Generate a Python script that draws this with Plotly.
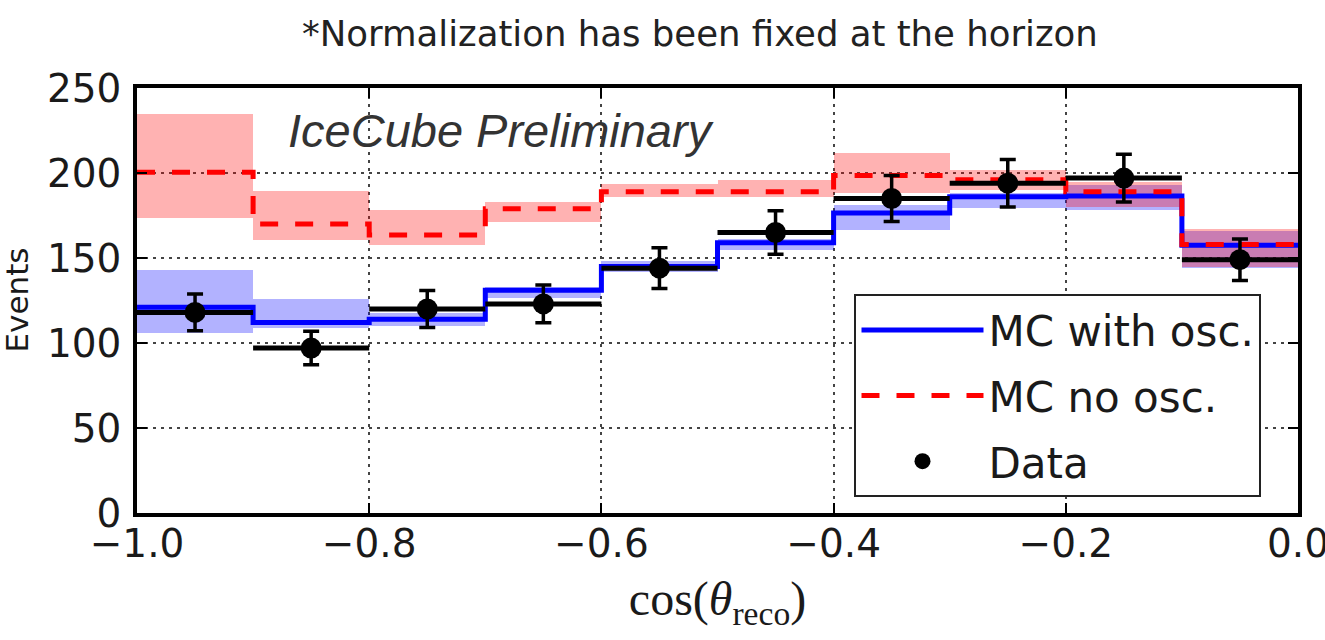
import numpy as np
import plotly.graph_objects as go

# bin edges of cos(theta_reco)
edges = [-1.0, -0.9, -0.8, -0.7, -0.6, -0.5, -0.4, -0.3, -0.2, -0.1, 0.0]
centers = [-0.95, -0.85, -0.75, -0.65, -0.55, -0.45, -0.35, -0.25, -0.15, -0.05]

# observed data
data_counts = [118, 97, 120, 123, 144, 165, 185, 194, 197, 149]

# MC with oscillations and its uncertainty band
mc_osc = [121, 112, 114, 131, 145, 159, 176.5, 186, 186.5, 157.5]
mc_osc_lo = [106, 109, 110, 126.5, 142, 155, 166.5, 179.5, 178, 144]
mc_osc_hi = [143, 126, 117.5, 133, 148, 161, 181, 188, 193, 166]

# MC without oscillations and its uncertainty band
mc_noosc = [200.5, 170, 163.5, 179, 189, 189, 198.5, 196, 189, 158]
mc_noosc_lo = [173.5, 160.5, 157.5, 171, 186, 186, 188, 190, 180, 145]
mc_noosc_hi = [235, 189.5, 178, 183, 193.5, 196, 212, 202, 195, 167]

x_ticks = [-1.0, -0.8, -0.6, -0.4, -0.2, 0.0]
y_ticks = [0, 50, 100, 150, 200, 250]

bin_w = edges[1] - edges[0]

fig = go.Figure()

# uncertainty bands
fig.add_trace(go.Bar(
    x=centers, y=np.array(mc_osc_hi) - np.array(mc_osc_lo), base=mc_osc_lo,
    width=bin_w, marker=dict(color="rgba(0,0,255,0.3)", line=dict(width=0)),
    showlegend=False, hoverinfo="skip"))
fig.add_trace(go.Bar(
    x=centers, y=np.array(mc_noosc_hi) - np.array(mc_noosc_lo), base=mc_noosc_lo,
    width=bin_w, marker=dict(color="rgba(255,0,0,0.3)", line=dict(width=0)),
    showlegend=False, hoverinfo="skip"))

# step lines
fig.add_trace(go.Scatter(
    x=edges, y=mc_osc + [mc_osc[-1]], mode="lines", line_shape="hv",
    line=dict(color="#0000ff", width=5), name="MC with osc.",
    legendgroup="a"))
fig.add_trace(go.Scatter(
    x=edges, y=mc_noosc + [mc_noosc[-1]], mode="lines", line_shape="hv",
    line=dict(color="#ff0000", width=5, dash="18px,17px"), name="MC no osc.",
    legendgroup="b"))

# data points
fig.add_trace(go.Scatter(
    x=centers, y=data_counts, mode="markers", name="Data", legendgroup="c",
    marker=dict(color="black", size=21, symbol="circle"),
    error_y=dict(type="data", array=np.sqrt(data_counts), color="black",
                 thickness=3.5, width=8),
    error_x=dict(type="constant", value=bin_w / 2, color="black",
                 thickness=5, width=0)))

grid_kw = dict(showgrid=True, gridcolor="#444", gridwidth=1.5, griddash="3px,5px",
               showline=True, linecolor="black", linewidth=3.5, mirror="ticks",
               ticks="inside", ticklen=10, tickwidth=1.5, tickcolor="black",
               zeroline=False, automargin=False, ticklabeloverflow="allow",
               tickfont=dict(family="DejaVu Sans", size=39, color="#1a1a1a"))

fig.update_xaxes(range=[-1.0, 0.0], tickvals=x_ticks, tickformat=".1f",
                 ticklabelstandoff=-7,
                 title=dict(text="cos(<i>θ</i><sub>reco</sub>)", standoff=18,
                            font=dict(family="Liberation Serif", size=48, color="#1a1a1a")),
                 **grid_kw)
fig.update_yaxes(range=[0, 250], tickvals=y_ticks, ticklabelstandoff=4,
                 **grid_kw)

fig.add_annotation(text="Events", textangle=-90,
                   xref="paper", yref="paper", x=(16 - 137) / 1161, y=0.5,
                   xanchor="center", yanchor="middle", showarrow=False,
                   font=dict(family="DejaVu Sans", size=31, color="#1a1a1a"))
fig.add_annotation(text="*Normalization has been fixed at the horizon",
                   xref="paper", yref="paper", x=0.485, y=1.129,
                   xanchor="center", yanchor="middle", showarrow=False,
                   font=dict(family="DejaVu Sans", size=35.5, color="#222"))
fig.add_annotation(text="IceCube Preliminary",
                   xref="paper", yref="paper", x=0.128, y=0.901,
                   xanchor="left", yanchor="middle", showarrow=False,
                   font=dict(family="Liberation Sans", size=47, color="#333",
                             style="italic"))

fig.update_layout(
    width=1325, height=640,
    margin=dict(l=137, r=27, t=88, b=127),
    paper_bgcolor="white", plot_bgcolor="white",
    barmode="overlay", bargap=0,
    legend=dict(x=0.618, y=0.515, xanchor="left", yanchor="top",
                bgcolor="white", bordercolor="#222", borderwidth=2,
                font=dict(family="DejaVu Sans", size=42, color="#1a1a1a"),
                itemwidth=122, tracegroupgap=8, traceorder="grouped"),
)

fig.write_html("out.html")
